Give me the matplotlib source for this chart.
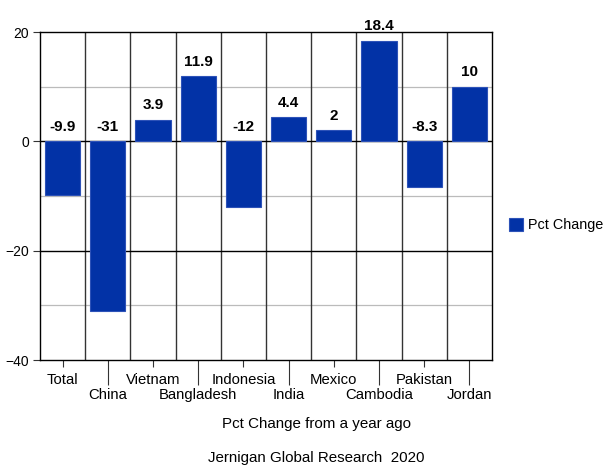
import matplotlib
matplotlib.use("Agg")
import matplotlib.pyplot as plt
from matplotlib.ticker import MultipleLocator

plt.rcParams['font.family'] = ['Liberation Sans', 'DejaVu Sans']

countries = ["Total", "China", "Vietnam", "Bangladesh", "Indonesia", "India",
             "Mexico", "Cambodia", "Pakistan", "Jordan"]
pct_change = [-9.9, -31, 3.9, 11.9, -12, 4.4, 2, 18.4, -8.3, 10]
value_labels = ["-9.9", "-31", "3.9", "11.9", "-12", "4.4", "2", "18.4", "-8.3", "10"]

bar_color = "#0232A6"

fig = plt.figure(figsize=(6.09, 4.66), dpi=100)
ax = fig.add_axes([40 / 609, 1 - 360 / 466, 452 / 609, 328 / 466])

x = list(range(len(countries)))
bars = ax.bar(x, pct_change, width=0.78, color=bar_color, edgecolor="#2d52b8",
              linewidth=0.8, label="Pct Change", zorder=3)

ax.set_xlim(-0.5, len(countries) - 0.5)
ax.set_ylim(-40, 20)

# horizontal grid: major black, minor grey
for yv in [-20, 0]:
    ax.axhline(yv, color="black", lw=1.0, zorder=2)
for yv in [-30, -10, 10]:
    ax.axhline(yv, color="#bbbbbb", lw=0.9, zorder=1)
# category dividers
for i in range(len(countries) - 1):
    ax.axvline(i + 0.5, color="#333333", lw=1.0, zorder=1)

for s in ax.spines.values():
    s.set_color("black")
    s.set_linewidth(1.0)

ax.set_yticks([-40, -20, 0, 20])
ax.yaxis.set_minor_locator(MultipleLocator(100))
ax.tick_params(axis="y", length=5, width=0.8, pad=3, labelsize=10, color="#333333")

# staggered category labels
even = x[0::2]
odd = x[1::2]
ax.set_xticks(even, [countries[i] for i in even])
ax.set_xticks(odd, [countries[i] for i in odd], minor=True)
ax.tick_params(axis="x", which="major", length=5, width=0.8, pad=4,
               labelsize=10.7, color="#333333")
ax.tick_params(axis="x", which="minor", length=18, width=0.8, pad=2,
               labelsize=10.7, color="#333333")

for xi, v, lab in zip(x, pct_change, value_labels):
    ax.annotate(lab, (xi, max(v, 0)), xytext=(0, 5.5), textcoords="offset points",
                ha="center", va="bottom", fontsize=11, fontweight="bold", zorder=4)

fig.text(316 / 609, 1 - 424 / 466, "Pct Change from a year ago",
         ha="center", va="center", fontsize=10.9)
fig.text(316 / 609, 1 - 458 / 466, "Jernigan Global Research  2020",
         ha="center", va="center", fontsize=10.9)

fig.legend(handles=[bars], labels=["Pct Change"], loc="center left",
           bbox_to_anchor=(509 / 609, 1 - 225 / 466), frameon=False,
           fontsize=10.4, handlelength=1.0, handleheight=1.0, handletextpad=0.35,
           borderpad=0, borderaxespad=0)

fig.savefig("out.png", dpi=100)
